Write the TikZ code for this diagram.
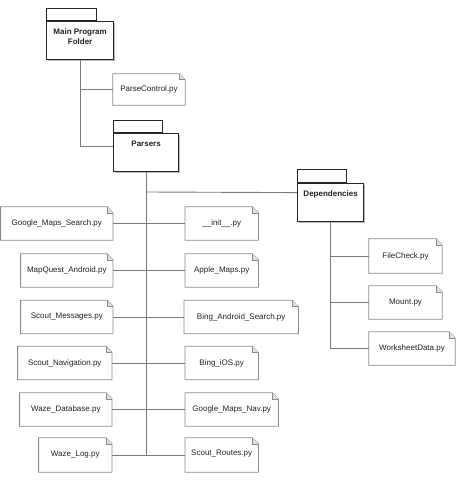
\documentclass[tikz,border=0pt]{standalone}
\usepackage{fontspec}
\setmainfont{Liberation Sans}
\usetikzlibrary{shadows}
\definecolor{linegray}{HTML}{7A7A7A}
\definecolor{notegray}{HTML}{8C8C8C}
\definecolor{txt}{HTML}{222222}
\tikzset{
  folderbody/.style={draw=black!85, line width=1.2pt, fill=white, inner sep=0pt,
    drop shadow={shadow xshift=1.5pt, shadow yshift=-1.5pt, fill=black!45, opacity=0.6}},
  foldertab/.style={draw=black!85, line width=1pt, fill=white, inner sep=0pt, anchor=south west},
  foldertitle/.style={anchor=north, inner sep=0pt, align=center, font=\fontsize{8}{10}\selectfont\bfseries, text=txt},
  pynote/.style={inner sep=0pt, minimum height=33pt, font=\fontsize{8}{10}\selectfont, text=txt},
  noteline/.style={draw=notegray, line width=0.8pt},
  conn/.style={draw=linegray, line width=0.9pt}
}
\begin{document}
\begin{tikzpicture}[x=1pt, y=-1pt]
\useasboundingbox (0,0) rectangle (456,486);

% folders
\node[foldertab, minimum width=50pt, minimum height=12pt] (maintab) at (46,21) {};
\node[folderbody, anchor=north west, minimum width=67pt, minimum height=38pt] (mainbody) at (46,21) {};
\node[foldertitle] (maintitle) at ([yshift=-8pt]mainbody.north) {Main Program\\Folder};

\node[foldertab, minimum width=49pt, minimum height=12pt] (parstab) at (113,133) {};
\node[folderbody, anchor=north west, minimum width=65pt, minimum height=38pt] (parsers) at (113,133) {};
\node[foldertitle] (parstitle) at ([yshift=-8pt]parsers.north) {Parsers};

\node[foldertab, minimum width=49pt, minimum height=13pt] (deptab) at (297,183) {};
\node[folderbody, anchor=north west, minimum width=66pt, minimum height=38pt] (deps) at (297,183) {};
\node[foldertitle] (deptitle) at ([yshift=-8pt]deps.north) {Dependencies};

% notes
\node[pynote, minimum width=72pt, minimum height=31pt] (pc) at (149,89.5) {ParseControl.py};

\node[pynote, anchor=east, minimum width=112pt] (gms) at (113,223.5) {Google\_Maps\_Search.py};
\node[pynote, anchor=east, minimum width=92pt] (mqa) at (113,270.5) {MapQuest\_Android.py};
\node[pynote, anchor=east, minimum width=92pt] (smsg) at (113,317) {Scout\_Messages.py};
\node[pynote, anchor=east, minimum width=94pt] (snav) at (112,363) {Scout\_Navigation.py};
\node[pynote, anchor=east, minimum width=92pt] (wdb) at (112,409.5) {Waze\_Database.py};
\node[pynote, anchor=east, minimum width=73pt, minimum height=34pt] (wlog) at (112,455) {Waze\_Log.py};

\node[pynote, anchor=west, minimum width=73pt] (init) at (185,223.5) {\_\_init\_\_.py};
\node[pynote, anchor=west, minimum width=73pt] (apple) at (185,270.5) {Apple\_Maps.py};
\node[pynote, anchor=west, minimum width=114pt] (bas) at (184,317) {Bing\_Android\_Search.py};
\node[pynote, anchor=west, minimum width=73pt] (bios) at (185,363) {Bing\_iOS.py};
\node[pynote, anchor=west, minimum width=93pt] (gmn) at (185,409.5) {Google\_Maps\_Nav.py};
\node[pynote, anchor=west, minimum width=73pt, minimum height=34pt] (sroutes) at (185,455) {\raisebox{4pt}{Scout\_Routes.py}};

\node[pynote, minimum width=73pt, minimum height=34pt] (fc) at (405.5,256) {FileCheck.py};
\node[pynote, minimum width=73pt] (mount) at (405.5,302.5) {Mount.py};
\node[pynote, minimum width=86pt] (wsd) at (412,348.5) {WorksheetData.py};

\foreach \n in {pc,gms,mqa,smsg,snav,wdb,wlog,init,apple,bas,bios,gmn,sroutes,fc,mount,wsd}{
  \draw[noteline] (\n.north west) -- ([xshift=-6pt]\n.north east) -- ([yshift=-6pt]\n.north east)
     -- (\n.south east) -- (\n.south west) -- cycle;
  \draw[noteline, fill=black!12, line width=0.6pt] ([xshift=-6pt]\n.north east) -- ([xshift=-6pt,yshift=-6pt]\n.north east) -- ([yshift=-6pt]\n.north east);
}

% connectors
\draw[conn] (mainbody.south) |- ([yshift=6pt]parsers.west);
\draw[conn] (mainbody.south |- pc.west) -- (pc.west);
\coordinate (ptrunkend) at (parsers.south |- wlog.east);
\draw[conn] (parsers.south) -- (ptrunkend);
\coordinate (pdep) at (parsers.south |- 0,192);
\draw[conn] (pdep) -- ([yshift=10pt]deps.west);
\draw[conn] (gms.east) -- (init.west);
\draw[conn] (mqa.east) -- (apple.west);
\draw[conn] (smsg.east) -- (bas.west);
\draw[conn] (snav.east) -- (bios.west);
\draw[conn] (wdb.east) -- (gmn.west);
\draw[conn] (wlog.east) -- (sroutes.west);
\draw[conn] (deps.south) |- (wsd.west);
\draw[conn] (deps.south |- fc.west) -- (fc.west);
\draw[conn] (deps.south |- mount.west) -- (mount.west);
\end{tikzpicture}
\end{document}
